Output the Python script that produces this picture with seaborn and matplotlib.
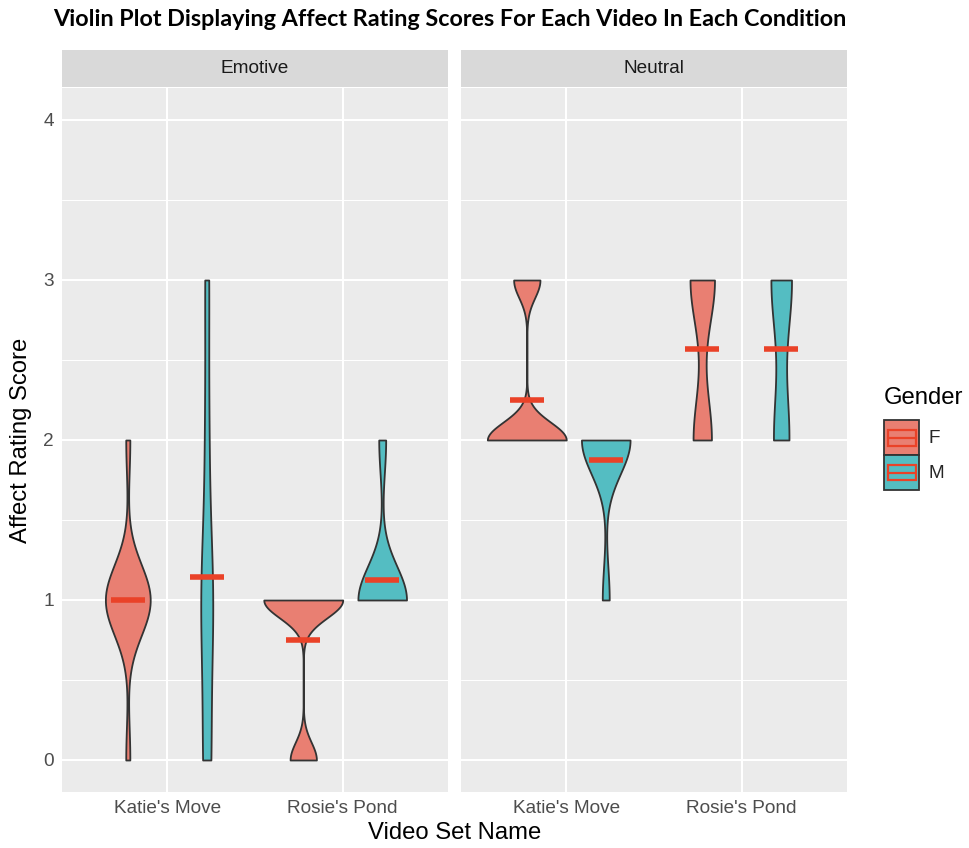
import numpy as np
import pandas as pd
import matplotlib
matplotlib.use("Agg")
import matplotlib.pyplot as plt
from matplotlib.patches import Rectangle, Patch
from matplotlib.lines import Line2D
from matplotlib.legend_handler import HandlerBase
from matplotlib.ticker import MultipleLocator
import seaborn as sns

# ---- data -------------------------------------------------------------
conditions = ["Emotive", "Neutral"]
videos = ["Katie's Move", "Rosie's Pond"]
genders = ["F", "M"]

# individual affect ratings for each condition / video / gender
emotive_katie_f = [0, 1, 1, 1, 1, 1, 1, 1, 1, 1, 1, 1, 2]
emotive_katie_m = [0, 0, 1, 1, 1, 2, 3]
emotive_rosie_f = [0, 0, 1, 1, 1, 1, 1, 1]
emotive_rosie_m = [1, 1, 1, 1, 1, 1, 1, 2]
neutral_katie_f = [2, 2, 2, 2, 2, 2, 3, 3]
neutral_katie_m = [1, 2, 2, 2, 2, 2, 2, 2]
neutral_rosie_f = [2, 2, 2, 2, 2, 2, 3, 3, 3, 3, 3, 3, 3, 3]
neutral_rosie_m = [2, 2, 2, 3, 3, 3, 3]

y_ticks = [0, 1, 2, 3, 4]

ratings = {
    ("Emotive", "Katie's Move", "F"): emotive_katie_f,
    ("Emotive", "Katie's Move", "M"): emotive_katie_m,
    ("Emotive", "Rosie's Pond", "F"): emotive_rosie_f,
    ("Emotive", "Rosie's Pond", "M"): emotive_rosie_m,
    ("Neutral", "Katie's Move", "F"): neutral_katie_f,
    ("Neutral", "Katie's Move", "M"): neutral_katie_m,
    ("Neutral", "Rosie's Pond", "F"): neutral_rosie_f,
    ("Neutral", "Rosie's Pond", "M"): neutral_rosie_m,
}
rows = [(c, v, g, s) for (c, v, g), vals in ratings.items() for s in vals]
df = pd.DataFrame(rows, columns=["Condition", "Video", "Gender", "Score"])

# ---- style ------------------------------------------------------------
fill_colors = {"F": "#E97F72", "M": "#54BDC2"}
mean_color = "#EA4228"
outline = "#333333"
panel_bg = "#EBEBEB"
strip_bg = "#D9D9D9"

sns.set_theme(style="white")
plt.rcParams["font.family"] = ["Liberation Sans", "DejaVu Sans"]

W, H = 969, 848
fig = plt.figure(figsize=(W / 100, H / 100), dpi=100)

TICK_PT = 13.7
TITLE_PT = 17.2


def nrd0_factor(kde):
    """Silverman's rule of thumb as in R's bw.nrd0, returned as a factor of the sd."""
    x = np.asarray(kde.dataset).ravel()
    sd = np.std(x, ddof=1)
    q75, q25 = np.percentile(x, [75, 25])
    lo = min(sd, (q75 - q25) / 1.34)
    if lo == 0:
        lo = sd
    bw = 0.9 * lo * len(x) ** -0.2
    return bw / sd


panel_left = [62, 461]
panel_w = 386
panel_top, panel_bottom = 88, 792
panel_h = panel_bottom - panel_top

for i, cond in enumerate(conditions):
    ax = fig.add_axes([panel_left[i] / W, 1 - panel_bottom / H, panel_w / W, panel_h / H])
    sub = df[df["Condition"] == cond]

    sns.violinplot(
        data=sub, x="Video", y="Score", hue="Gender",
        order=videos, hue_order=genders, palette=fill_colors,
        cut=0, density_norm="area", common_norm=True, bw_method=nrd0_factor,
        width=0.9, gap=0, inner=None, linewidth=1.3, linecolor=outline,
        saturation=1, legend=False, ax=ax,
    )
    sns.pointplot(
        data=sub, x="Video", y="Score", hue="Gender",
        order=videos, hue_order=genders,
        palette={g: mean_color for g in genders},
        estimator="mean", errorbar=None, dodge=0.45,
        linestyle="none", marker="_", markersize=25, markeredgewidth=4.0,
        legend=False, ax=ax,
    )

    ax.set_facecolor(panel_bg)
    for s in ax.spines.values():
        s.set_visible(False)
    ax.set_xlim(-0.6, 1.6)
    ax.set_ylim(-0.2, 4.2)
    ax.set_yticks(y_ticks)
    ax.yaxis.set_minor_locator(MultipleLocator(0.5))
    ax.set_axisbelow(True)
    ax.grid(which="major", color="white", linewidth=1.5)
    ax.grid(which="minor", axis="y", color="white", linewidth=0.75)
    ax.set_xlabel("")
    ax.set_ylabel("")
    ax.tick_params(axis="both", which="major", length=3, width=1.0, color=outline,
                   labelsize=TICK_PT, labelcolor="#4D4D4D", pad=3)
    ax.tick_params(axis="y", which="minor", left=False)
    if i > 0:
        ax.tick_params(axis="y", which="both", left=False, labelleft=False)

    # facet strip
    ax.add_patch(Rectangle((0, 1 + 1 / panel_h), 1, 37 / panel_h, transform=ax.transAxes,
                           facecolor=strip_bg, edgecolor="none", clip_on=False))
    ax.text(0.5, 1 + 19.5 / panel_h, cond, transform=ax.transAxes, ha="center", va="center",
            fontsize=TICK_PT, color="#1A1A1A")

# axis titles
fig.text(454.5 / W, 1 - 833 / H, "Video Set Name", ha="center", va="center",
         fontsize=TITLE_PT, color="black")
fig.text(21 / W, 1 - 440 / H, "Affect Rating Score", ha="center", va="center",
         rotation=90, fontsize=TITLE_PT, color="black")

# chart title
fig.text(450 / W, 1 - 19 / H,
         "Violin Plot Displaying Affect Rating Scores For Each Video In Each Condition",
         ha="center", va="center", fontsize=16.8, fontweight="bold",
         family=["Lato", "DejaVu Sans"], color="black")


# legend: filled key with the mean crossbar drawn over it
class GenderKey(HandlerBase):
    def create_artists(self, legend, orig_handle, xdescent, ydescent, width, height,
                       fontsize, trans):
        x0, y0 = -xdescent, -ydescent
        outer = Rectangle((x0, y0), width, height, facecolor=orig_handle.get_facecolor(),
                          edgecolor=outline, linewidth=1.3, transform=trans)
        inner = Rectangle((x0 + 0.1 * width, y0 + 0.27 * height), 0.8 * width, 0.44 * height,
                          facecolor="none", edgecolor=mean_color, linewidth=1.6,
                          transform=trans)
        mid = Line2D([x0 + 0.1 * width, x0 + 0.9 * width], [y0 + 0.49 * height] * 2,
                     color=mean_color, linewidth=1.6, transform=trans)
        return [outer, inner, mid]


fig.text(884 / W, 1 - 398 / H, "Gender", ha="left", va="center",
         fontsize=TITLE_PT, color="black")
handles = [Patch(facecolor=fill_colors[g]) for g in genders]
leg = fig.legend(
    handles, genders, loc="upper left",
    bbox_to_anchor=(884 / W, 1 - 420 / H), frameon=False,
    fontsize=TICK_PT,
    handlelength=1.85, handleheight=2.45, labelspacing=0.0, handletextpad=0.5,
    borderpad=0, borderaxespad=0,
    handler_map={h: GenderKey() for h in handles},
)

fig.savefig("out.png", dpi=100)
